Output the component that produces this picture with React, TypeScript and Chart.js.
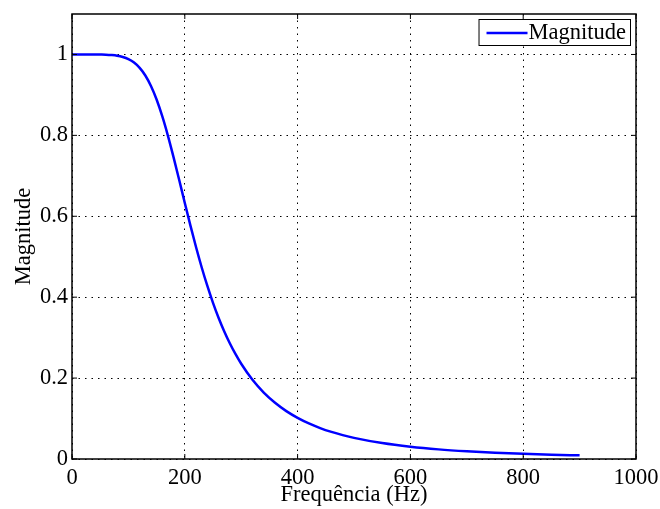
import React, { useEffect, useRef } from 'react';
import { Chart, registerables } from 'chart.js';

Chart.register(...registerables);

const frequencies = [
  0, 10, 20, 30, 40, 50, 60, 70, 80, 90, 100, 110, 120, 130, 140, 150, 160, 170, 180, 190,
  200, 210, 220, 230, 240, 250, 260, 270, 280, 290, 300, 320, 340, 360, 380, 400, 420, 440,
  460, 480, 500, 550, 600, 650, 700, 750, 800, 850, 900,
];
const magnitudes = [
  1.0, 1.0, 1.0, 1.0, 1.0, 0.9998, 0.9995, 0.9986, 0.997, 0.9938, 0.9885, 0.9799, 0.9668,
  0.9479, 0.9221, 0.8886, 0.8474, 0.7995, 0.7463, 0.6901, 0.633, 0.5768, 0.5233, 0.4734,
  0.4277, 0.3861, 0.3487, 0.3153, 0.2855, 0.259, 0.2354, 0.1957, 0.1641, 0.1389, 0.1183,
  0.1017, 0.0879, 0.0765, 0.067, 0.059, 0.0522, 0.0393, 0.0303, 0.0238, 0.0191, 0.0155,
  0.0128, 0.0106, 0.009,
];
const xTicks = [0, 200, 400, 600, 800, 1000];
const yTicks = [0, 0.2, 0.4, 0.6, 0.8, 1];
const seriesLabel = 'Magnitude';
const xTitle = 'Frequência (Hz)';
const yTitle = 'Magnitude';

const FONT = '"Liberation Serif", "Times New Roman", serif';
const FONT_SIZE = 22.5;

const framePlugin = {
  id: 'frameLegend',
  afterDraw(chart: any) {
    const { ctx, chartArea: a, scales } = chart;
    ctx.save();
    ctx.strokeStyle = '#000';
    ctx.lineWidth = 1;
    const L = 5;
    const seg = (x1: number, y1: number, x2: number, y2: number) => {
      ctx.beginPath();
      ctx.moveTo(x1, y1);
      ctx.lineTo(x2, y2);
      ctx.stroke();
    };
    xTicks.forEach((v) => {
      const px = scales.x.getPixelForValue(v);
      seg(px, a.bottom, px, a.bottom - L);
      seg(px, a.top, px, a.top + L);
    });
    yTicks.forEach((v) => {
      const py = scales.y.getPixelForValue(v);
      seg(a.left, py, a.left + L, py);
      seg(a.right, py, a.right - L, py);
    });
    ctx.lineWidth = 1.5;
    ctx.strokeRect(a.left, a.top, a.right - a.left, a.bottom - a.top);

    // legend
    const ds = chart.data.datasets[0];
    ctx.font = `${FONT_SIZE}px ${FONT}`;
    const tw = ctx.measureText(ds.label).width;
    const padL = 8;
    const lineLen = 41;
    const gap = 1;
    const padR = 4;
    const w = padL + lineLen + gap + tw + padR;
    const h = 26;
    const bx = a.right - 6 - w;
    const by = a.top + 5;
    ctx.fillStyle = '#fff';
    ctx.fillRect(bx, by, w, h);
    ctx.lineWidth = 1;
    ctx.strokeStyle = '#000';
    ctx.strokeRect(bx + 0.5, by + 0.5, w, h);
    ctx.strokeStyle = ds.borderColor;
    ctx.lineWidth = ds.borderWidth;
    seg(bx + padL, by + h / 2 + 1, bx + padL + lineLen, by + h / 2 + 1);
    ctx.fillStyle = '#000';
    ctx.textBaseline = 'middle';
    ctx.textAlign = 'left';
    ctx.fillText(ds.label, bx + padL + lineLen + gap, by + h / 2 + 1);
    ctx.restore();
  },
};

export default function App() {
  const ref = useRef<HTMLCanvasElement | null>(null);

  useEffect(() => {
    document.body.style.margin = '0';
    const canvas = ref.current;
    if (!canvas) return;
    const points = frequencies.map((f, i) => ({ x: f, y: magnitudes[i] }));
    const chart = new Chart(canvas, {
      type: 'line',
      data: {
        datasets: [
          {
            label: seriesLabel,
            data: points,
            borderColor: '#0000ff',
            borderWidth: 2.5,
            pointRadius: 0,
            fill: false,
            cubicInterpolationMode: 'monotone',
          },
        ],
      },
      options: {
        responsive: false,
        animation: false,
        layout: { padding: { top: 14, right: 24, left: 0, bottom: 0 } },
        plugins: {
          legend: { display: false },
          tooltip: { enabled: false },
        },
        scales: {
          x: {
            type: 'linear',
            min: 0,
            max: 1000,
            ticks: {
              stepSize: 200,
              color: '#000',
              font: { family: FONT, size: FONT_SIZE },
              padding: 6,
              maxRotation: 0,
              callback: (v: any) => String(v),
            },
            grid: { color: '#000', lineWidth: 1, drawTicks: false },
            border: { display: false, dash: [1.5, 5] },
            title: {
              display: true,
              text: xTitle,
              color: '#000',
              font: { family: FONT, size: FONT_SIZE },
              padding: { top: 0, bottom: 0 },
            },
            afterFit: (s: any) => {
              s.height = 50;
              s.paddingLeft = 0;
              s.paddingRight = 0;
            },
          },
          y: {
            type: 'linear',
            min: 0,
            max: 1.1,
            ticks: {
              stepSize: 0.2,
              color: '#000',
              font: { family: FONT, size: FONT_SIZE },
              padding: 4,
              callback: (v: any) => String(Number(Number(v).toFixed(1))),
            },
            afterBuildTicks: (s: any) => {
              s.ticks = s.ticks.filter((t: any) => t.value <= 1.0001);
            },
            grid: { color: '#000', lineWidth: 1, drawTicks: false },
            border: { display: false, dash: [1.5, 5] },
            title: {
              display: true,
              text: yTitle,
              color: '#000',
              font: { family: FONT, size: FONT_SIZE },
              padding: { top: 11, bottom: 0 },
            },
            afterFit: (s: any) => {
              s.width = 72;
              s.paddingTop = 0;
              s.paddingBottom = 0;
            },
          },
        },
      },
      plugins: [framePlugin],
    } as any);
    return () => chart.destroy();
  }, []);

  return <canvas ref={ref} width={660} height={509} style={{ display: 'block', width: 660, height: 509 }} />;
}
